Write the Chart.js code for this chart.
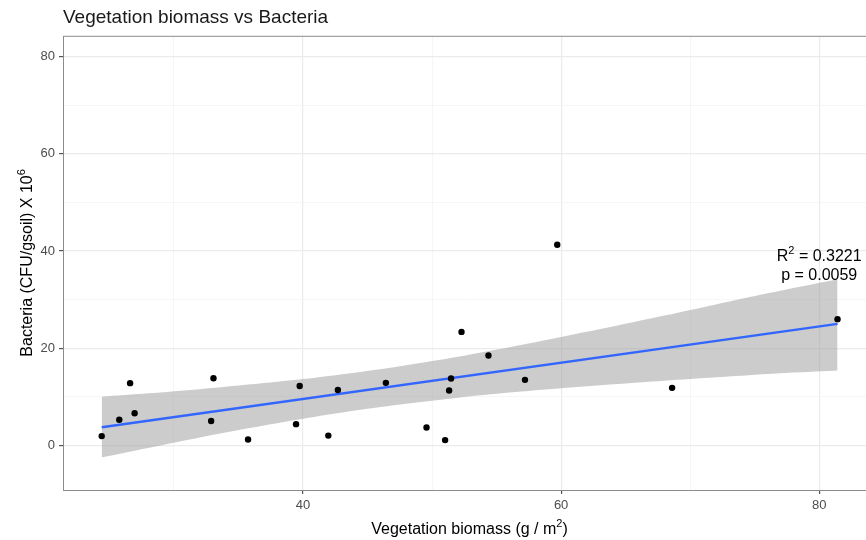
<!DOCTYPE html>
<html>
<head>
<meta charset="utf-8">
<script src="https://cdn.jsdelivr.net/npm/chart.js@4/dist/chart.umd.min.js"></script>
<style>
  html, body { margin:0; padding:0; background:#fff; overflow:hidden; }
  #wrap { width:866px; height:540px; overflow:hidden; }
</style>
</head>
<body>
<div id="wrap"><canvas id="chart" width="880" height="540"></canvas></div>
<script>
// observed points (vegetation biomass, bacteria)
const biomass  = [24.4, 25.76, 26.6, 26.95, 32.88, 33.06, 35.74, 39.46, 39.74, 41.96, 42.7,
                  46.42, 49.57, 51.01, 51.32, 51.47, 52.28, 54.37, 57.2, 59.7, 68.6, 81.42];
const bacteria = [1.9, 5.25, 12.8, 6.6, 5.0, 13.8, 1.2, 4.36, 12.2, 2.0, 11.4,
                  12.86, 3.66, 1.07, 11.28, 13.75, 23.35, 18.48, 13.48, 41.3, 11.83, 25.97];

// lm fit + confidence band
const fitX = [24.4, 81.42];
const fitY = [3.74, 25.0];
const bandX     = [24.4, 28, 32, 36, 40, 44, 48, 52, 56, 60, 64, 68, 72, 76, 81.42];
const bandUpper = [10.0, 10.7, 11.55, 12.55, 13.65, 14.95, 16.5, 18.25, 20.2, 22.3, 24.45, 26.7, 29.0, 31.3, 34.2];
const bandLower = [-2.5, -0.55, 1.6, 3.6, 5.45, 7.15, 8.55, 9.8, 10.85, 11.75, 12.55, 13.3, 14.0, 14.7, 15.4];

const xTicksShown = [40, 60, 80];
const yTicksShown = [0, 20, 40, 60, 80];

const FONT = "'Liberation Sans', Arial, sans-serif";
const pts = (xs, ys) => xs.map((x, i) => ({ x: x, y: ys[i] }));
const isMajor = (v, list) => list.includes(v);

// text with a superscript part: parts = [[text, isSup], ...], centred on cx, baseline at by
function richText(ctx, parts, cx, by, size){
  const supSize = Math.round(size * 0.7);
  const widths = parts.map(([t, sup]) => {
    ctx.font = (sup ? supSize : size) + 'px ' + FONT;
    return ctx.measureText(t).width;
  });
  let x = cx - widths.reduce((a, b) => a + b, 0) / 2;
  ctx.textAlign = 'left';
  ctx.textBaseline = 'alphabetic';
  parts.forEach(([t, sup], i) => {
    ctx.font = (sup ? supSize : size) + 'px ' + FONT;
    ctx.fillText(t, x, sup ? by - size * 0.42 : by);
    x += widths[i];
  });
}

const panelPlugin = {
  id: 'panel',
  afterDraw(chart){
    const { ctx, chartArea: a, scales } = chart;
    ctx.save();
    ctx.fillStyle = '#000';
    // stats label
    const cx = scales.x.getPixelForValue(80);
    richText(ctx, [['R', false], ['2', true], [' = 0.3221', false]], cx, scales.y.getPixelForValue(37.9), 16);
    richText(ctx, [['p = 0.0059', false]], cx, scales.y.getPixelForValue(34.0), 16);
    // axis titles
    richText(ctx, [['Vegetation biomass (g / m', false], ['2', true], [')', false]], (a.left + a.right) / 2, 534, 16);
    ctx.save();
    ctx.translate(32, (a.top + a.bottom) / 2);
    ctx.rotate(-Math.PI / 2);
    richText(ctx, [['Bacteria (CFU/gsoil) X 10', false], ['6', true]], 0, 0, 16);
    ctx.restore();
    // panel border
    ctx.strokeStyle = '#8c8c8c';
    ctx.lineWidth = 1;
    ctx.strokeRect(a.left + 0.5, a.top + 0.5, a.right - a.left, a.bottom - a.top);
    ctx.restore();
  }
};

new Chart(document.getElementById('chart'), {
  type: 'scatter',
  data: {
    datasets: [
      { label: 'points', data: pts(biomass, bacteria), backgroundColor: '#000', borderColor: '#000',
        pointRadius: 3.2, borderWidth: 0 },
      { label: 'fit', data: pts(fitX, fitY), showLine: true, borderColor: '#3366FF', borderWidth: 2.5,
        pointRadius: 0, fill: false },
      { label: 'upper', data: pts(bandX, bandUpper), showLine: true, borderWidth: 0, borderColor: 'rgba(0,0,0,0)',
        pointRadius: 0, fill: false, tension: 0.3 },
      { label: 'lower', data: pts(bandX, bandLower), showLine: true, borderWidth: 0, borderColor: 'rgba(0,0,0,0)',
        pointRadius: 0, fill: '-1', backgroundColor: 'rgba(153,153,153,0.5)', tension: 0.3 }
    ]
  },
  options: {
    responsive: false,
    animation: false,
    events: [],
    layout: { padding: { left: 0, right: 4, top: 0, bottom: 0 } },
    plugins: {
      legend: { display: false },
      tooltip: { enabled: false },
      title: {
        display: true, text: 'Vegetation biomass vs Bacteria', align: 'start', fullSize: false,
        color: '#1a1a1a', font: { family: FONT, size: 19, weight: 'normal' },
        padding: { top: 6, bottom: 7 }
      }
    },
    scales: {
      x: {
        type: 'linear', min: 21.4, max: 84.4,
        afterFit(s){ s.height = 50; },
        ticks: {
          stepSize: 10, includeBounds: false, autoSkip: false, maxRotation: 0, padding: 4,
          color: '#4d4d4d', font: { family: FONT, size: 13 },
          callback: v => isMajor(v, xTicksShown) ? String(v) : ''
        },
        grid: {
          color: c => isMajor(c.tick.value, xTicksShown) ? '#ebebeb' : '#f4f4f4',
          lineWidth: c => isMajor(c.tick.value, xTicksShown) ? 1.2 : 0.8,
          tickColor: c => isMajor(c.tick.value, xTicksShown) ? '#555' : 'rgba(0,0,0,0)',
          tickLength: 4
        },
        border: { display: false }
      },
      y: {
        type: 'linear', min: -9.2, max: 84.3,
        afterFit(s){ s.width = 63; },
        ticks: {
          stepSize: 10, includeBounds: false, autoSkip: false, padding: 4,
          color: '#4d4d4d', font: { family: FONT, size: 13 },
          callback: v => isMajor(v, yTicksShown) ? String(v) : ''
        },
        grid: {
          color: c => isMajor(c.tick.value, yTicksShown) ? '#ebebeb' : '#f4f4f4',
          lineWidth: c => isMajor(c.tick.value, yTicksShown) ? 1.2 : 0.8,
          tickColor: c => isMajor(c.tick.value, yTicksShown) ? '#555' : 'rgba(0,0,0,0)',
          tickLength: 4
        },
        border: { display: false }
      }
    }
  },
  plugins: [panelPlugin]
});
</script>
</body>
</html>
